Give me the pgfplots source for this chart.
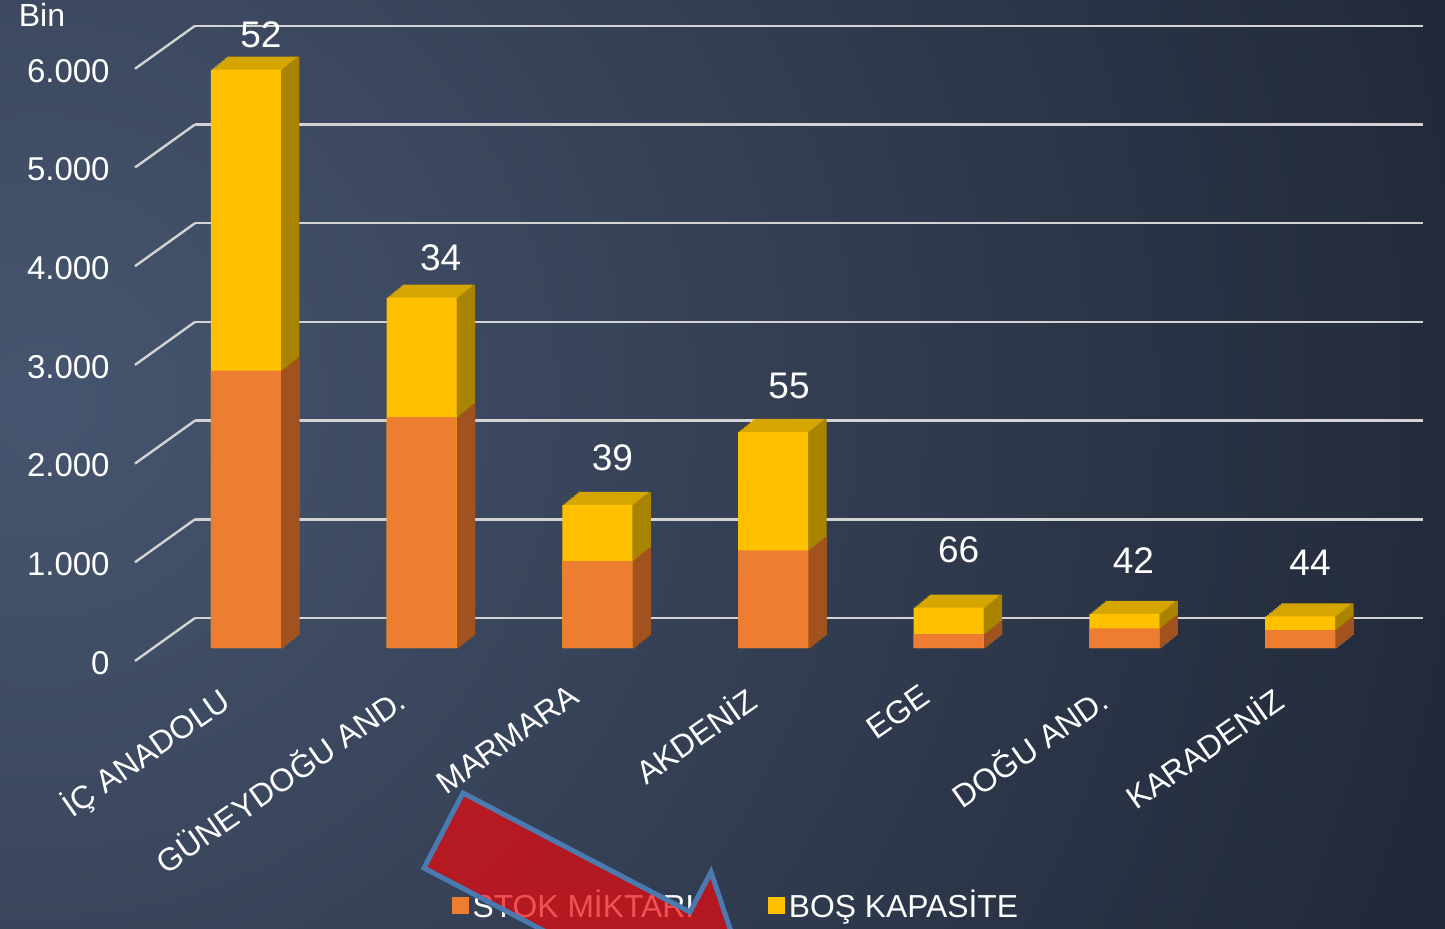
\documentclass[border=0pt]{standalone}
\usepackage{pgfplots}
\pgfplotsset{compat=1.18}
\usepackage{pgfplotstable}
\usepackage{fontspec}
\setmainfont{Liberation Sans}
\definecolor{bgin}{HTML}{46556F}
\definecolor{bgout}{HTML}{141925}
\definecolor{gridc}{HTML}{D3D3D3}
\definecolor{orf}{HTML}{ED7D31}
\definecolor{ors}{HTML}{A2521F}
\definecolor{yef}{HTML}{FFC000}
\definecolor{yetop}{HTML}{D6A600}
\definecolor{yes}{HTML}{A88400}
\definecolor{arrowred}{RGB}{235,8,12}
\definecolor{arrowblue}{HTML}{4A7AB0}

% stock, empty (Bin); pct label; label offsets lx, ly (pt)
\pgfplotstableread{
x stock empty pct lx ly
0 2810 3050 52 7.5 17.5
1 2340 1210 34 9.5 20
2 880 570 39 7.5 23.5
3 990 1200 55 8 23
4 140 270 66 5 29
5 200 145 42 4.5 26.5
6 180 140 44 5 27
}\datatable

\begin{document}
\begin{tikzpicture}
\useasboundingbox (0,0) rectangle (722.5pt,464pt);
\begin{scope}
\clip (0,0) rectangle (722.5pt,464pt);
\shade[inner color=bgin, outer color=bgout] (20pt,264pt) circle (1000pt);
\end{scope}

% grid axis (back wall)
\begin{axis}[at={(97.5pt,155pt)}, anchor=south west, scale only axis,
  width=614pt, height=296.1pt,
  xmin=0, xmax=1, ymin=0, ymax=6000,
  ytick={0,1000,2000,3000,4000,5000,6000}, xtick=\empty,
  ymajorgrids, grid style={draw=gridc, line width=1.2pt},
  axis line style={draw=none}, major tick length=0pt,
  yticklabel style={font=\fontsize{16.5}{18}\selectfont, text=white, anchor=east, inner sep=0pt, xshift=-42.5pt, yshift=-22.5pt},
  /pgf/number format/1000 sep={.},
  /pgf/number format/assume math mode=true,
  scaled y ticks=false, clip=false]
\pgfplotsinvokeforeach{0,1000,2000,3000,4000,5000,6000}{
  \draw[gridc, line width=1.2pt] (axis cs:0,#1) -- ++(-30pt,-21.5pt);
}
\end{axis}

% bars axis
\begin{axis}[at={(79.075pt,140pt)}, anchor=south west, scale only axis,
  width=614.85pt, height=320.775pt,
  xmin=-0.5, xmax=6.5, ymin=0, ymax=6500,
  ybar, bar width=35pt,
  every axis plot/.append style={bar shift=0pt},
  xtick={0,1,2,3,4,5,6},
  xticklabels={İÇ ANADOLU, GÜNEYDOĞU AND., MARMARA, AKDENİZ, EGE, DOĞU AND., KARADENİZ},
  xticklabel style={font=\fontsize{16}{18}\selectfont, text=white, rotate=35, anchor=north east, inner sep=0pt, xshift=-21.9pt, yshift=-5.8pt},
  ytick=\empty,
  axis line style={draw=none}, major tick length=0pt, clip=false,
  legend columns=2,
  legend style={draw=none, fill=none, text=white, font=\fontsize{15.9}{18}\selectfont,
    at={(0.4707,-0.4006)}, anchor=center,
    /tikz/every even column/.append style={column sep=35pt}},
  ]
% top faces (yellow) : shifted copies of the full bar
\pgfplotsinvokeforeach{1,...,8}{
  \addplot[forget plot, fill=yetop, draw=none, bar shift=0pt, xshift=#1pt, yshift={#1*0.8125pt}]
    table[x=x, y expr=\thisrow{stock}+\thisrow{empty}]{\datatable};
}
% side faces: narrow shifted copies at the right edge
\pgfplotsinvokeforeach{0,...,8}{
  \addplot[forget plot, fill=yes, draw=none, bar width=1.3pt, bar shift=18.1pt, xshift=#1pt, yshift={#1*0.8125pt}]
    table[x=x, y expr=\thisrow{stock}+\thisrow{empty}]{\datatable};
}
\pgfplotsinvokeforeach{0,...,8}{
  \addplot[forget plot, fill=ors, draw=none, bar width=1.3pt, bar shift=18.1pt, xshift=#1pt, yshift={#1*0.8125pt}]
    table[x=x, y=stock]{\datatable};
}
% front faces
\addplot[forget plot, fill=yef, draw=none, bar shift=0pt]
  table[x=x, y expr=\thisrow{stock}+\thisrow{empty}]{\datatable};
\addplot[forget plot, fill=orf, draw=none, bar shift=0pt]
  table[x=x, y=stock]{\datatable};
% percentage labels
\addplot[forget plot, draw=none, fill=none, bar shift=0pt,
  nodes near coords, point meta=explicit symbolic,
  visualization depends on={\thisrow{lx} \as \lx},
  visualization depends on={\thisrow{ly} \as \ly},
  every node near coord/.append style={font=\fontsize{18.5}{20}\selectfont, text=white, anchor=center, xshift=\lx pt, yshift=\ly pt}]
  table[x=x, y expr=\thisrow{stock}+\thisrow{empty}, meta=pct]{\datatable};
\addlegendimage{legend image code/.code={\fill[orf] (0pt,-4pt) rectangle (8pt,4pt);}}
\addlegendentry{STOK MİKTARI}
\addlegendimage{legend image code/.code={\fill[yef] (0pt,-4pt) rectangle (8pt,4pt);}}
\addlegendentry{BOŞ KAPASİTE}
\end{axis}

\node[text=white, font=\fontsize{16}{18}\selectfont] at (21pt,456.5pt) {Bin};

\begin{scope}
\clip (0,0) rectangle (722.5pt,464pt);
\filldraw[fill=arrowred, fill opacity=0.7, draw=arrowblue, line width=2.5pt, line join=miter]
  (231.5pt,67.5pt) -- (212pt,30pt) -- (338pt,-36pt) -- (377pt,-36pt) -- (355.5pt,28pt) -- (345pt,8pt) -- cycle;
\end{scope}
\end{tikzpicture}
\end{document}
